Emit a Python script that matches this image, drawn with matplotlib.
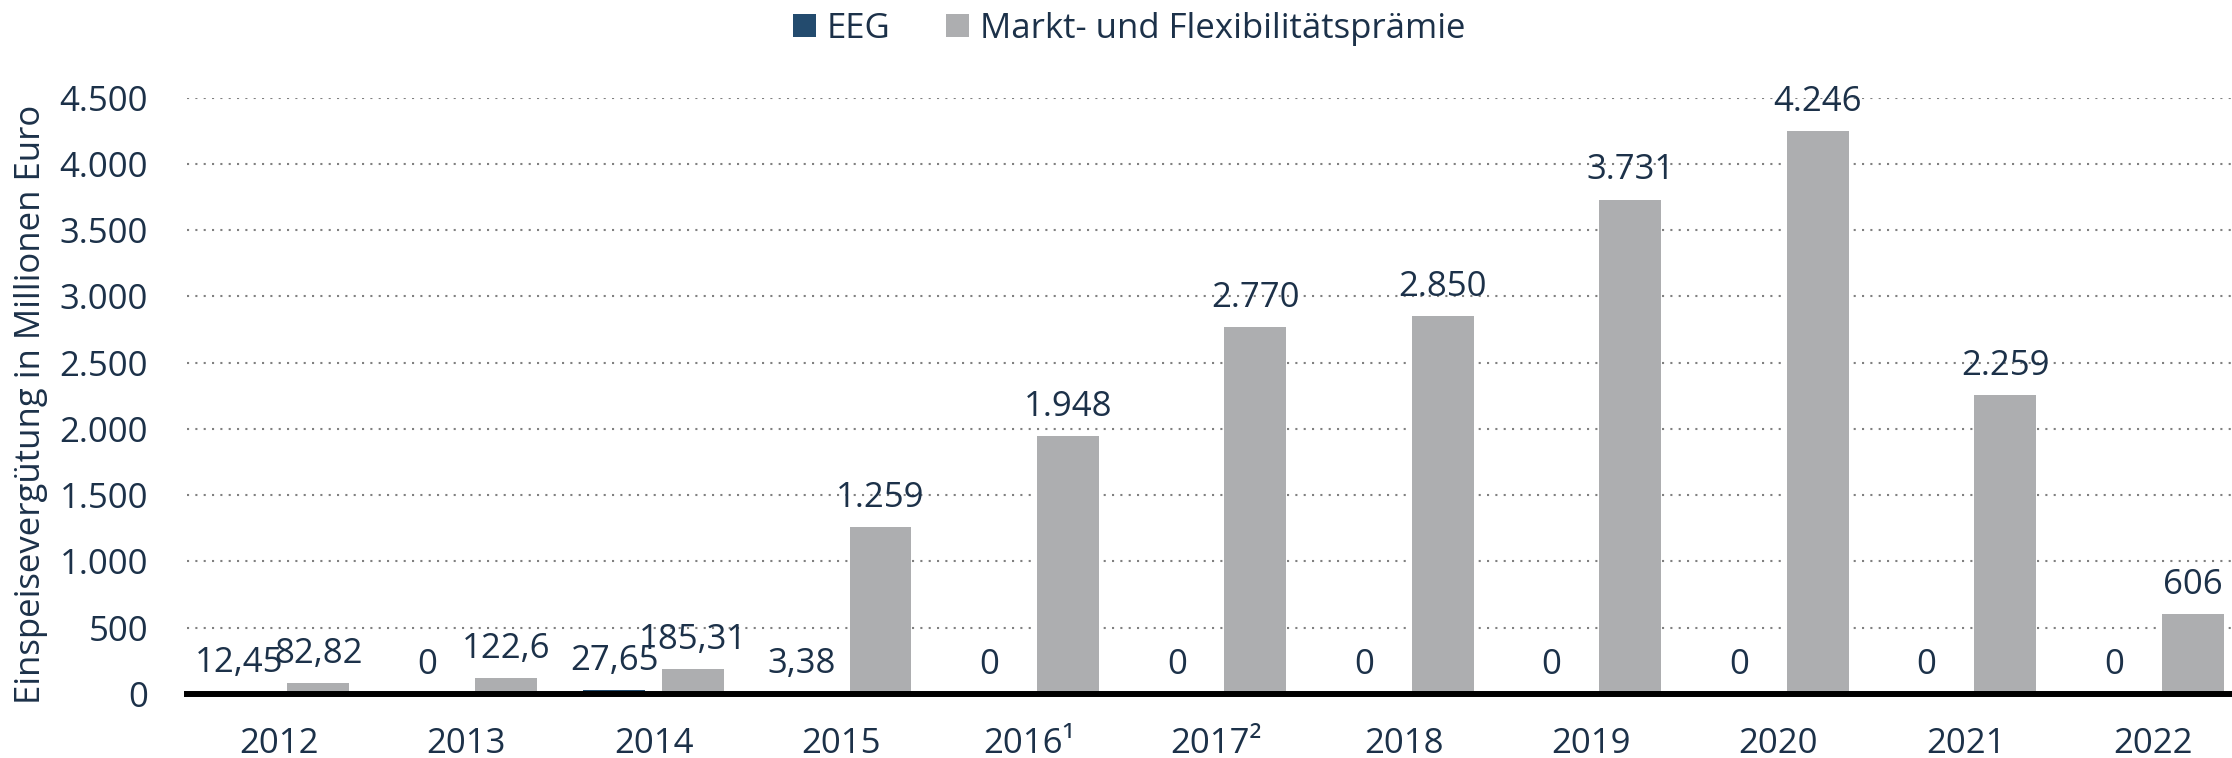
import numpy as np
import matplotlib.pyplot as plt

plt.rcParams['font.family'] = ['Open Sans', 'DejaVu Sans']

years = ['2012', '2013', '2014', '2015', '2016¹', '2017²', '2018', '2019', '2020', '2021', '2022']
eeg = [12.45, 0, 27.65, 3.38, 0, 0, 0, 0, 0, 0, 0]
markt = [82.82, 122.6, 185.31, 1259, 1948, 2770, 2850, 3731, 4246, 2259, 606]
y_ticks = [0, 500, 1000, 1500, 2000, 2500, 3000, 3500, 4000, 4500]

text_col = '#1c3149'
eeg_col = '#234b6e'
markt_col = '#adaeb0'
fs = 25


def de_fmt(v):
    # German number style: 1.259 / 122,6
    if v >= 1000:
        return f'{v:,.0f}'.replace(',', '.')
    return f'{v:g}'.replace('.', ',')


fig = plt.figure(figsize=(22.32, 7.58), dpi=100)
ax = fig.add_axes([187 / 2232, 1 - 694 / 758, 1 - 187 / 2232, (694 - 97.7) / 758])

x = np.arange(len(years))
off = 0.21
w = 0.33
b1 = ax.bar(x - off, eeg, w, color=eeg_col, label='EEG', zorder=2)
b2 = ax.bar(x + off, markt, w, color=markt_col, label='Markt- und Flexibilitätsprämie', zorder=2)

for bars, vals in [(b1, eeg), (b2, markt)]:
    for r, v in zip(bars, vals):
        ax.annotate(de_fmt(v), (r.get_x() + r.get_width() / 2, v),
                    xytext=(0, 14.5), textcoords='offset points',
                    ha='center', va='baseline', fontsize=fs, color=text_col,
                    annotation_clip=False, zorder=3)

ax.set_xlim(-0.49, 10.42)
ax.set_ylim(0, 4500)
ax.set_xticks(x)
ax.set_xticklabels(years)
ax.set_yticks(y_ticks)
ax.set_yticklabels([de_fmt(t) for t in y_ticks])
ax.tick_params(axis='both', length=0, labelsize=fs, labelcolor=text_col)
ax.tick_params(axis='y', pad=28)
ax.tick_params(axis='x', pad=24)

for s in ['top', 'right', 'left']:
    ax.spines[s].set_visible(False)
ax.spines['bottom'].set_linewidth(4.3)
ax.spines['bottom'].set_color('black')
ax.spines['bottom'].set_zorder(4)

ax.yaxis.grid(True, color='#808080', linestyle=(0, (1, 3)), linewidth=1.5, zorder=0)
ax.set_axisbelow(True)

fig.text(31 / 2232, 1 - 404 / 758, 'Einspeisevergütung in Millionen Euro',
         rotation=90, ha='center', va='center', fontsize=25, color=text_col)

leg = fig.legend(handles=[b1, b2], loc='center', bbox_to_anchor=(0.506, 0.962),
                 ncol=2, frameon=False, fontsize=fs, handlelength=0.66, handleheight=0.66,
                 handletextpad=0.32, columnspacing=1.6, labelcolor=text_col)

fig.savefig('out.png', dpi=100)
